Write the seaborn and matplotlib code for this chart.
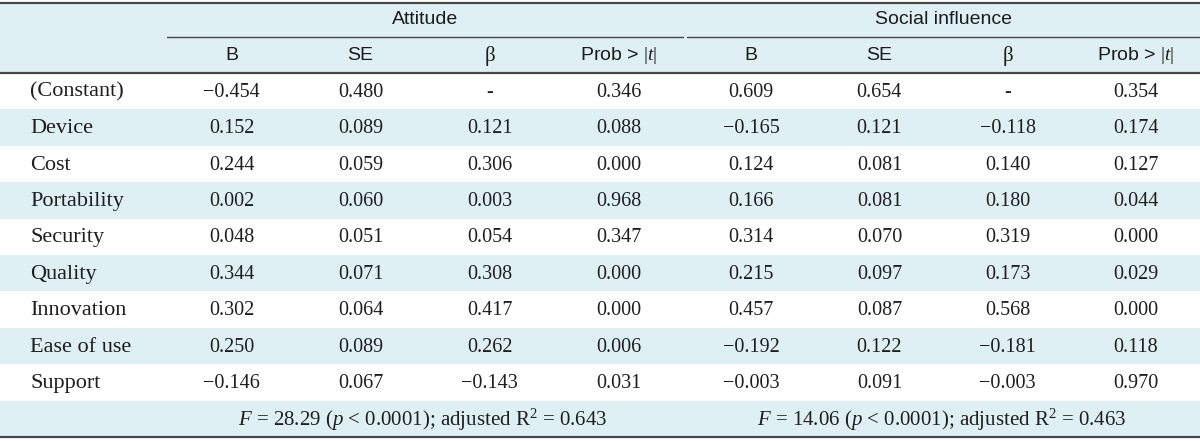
import matplotlib
matplotlib.use("Agg")
import matplotlib.pyplot as plt
import seaborn as sns

# regression table values
predictors = ["(Constant)", "Device", "Cost", "Portability", "Security",
              "Quality", "Innovation", "Ease of use", "Support"]
attitude_b = [-0.454, 0.152, 0.244, 0.002, 0.048, 0.344, 0.302, 0.250, -0.146]
attitude_se = [0.480, 0.089, 0.059, 0.060, 0.051, 0.071, 0.064, 0.089, 0.067]
attitude_beta = [None, 0.121, 0.306, 0.003, 0.054, 0.308, 0.417, 0.262, -0.143]
attitude_p = [0.346, 0.088, 0.000, 0.968, 0.347, 0.000, 0.000, 0.006, 0.031]
social_b = [0.609, -0.165, 0.124, 0.166, 0.314, 0.215, 0.457, -0.192, -0.003]
social_se = [0.654, 0.121, 0.081, 0.081, 0.070, 0.097, 0.087, 0.122, 0.091]
social_beta = [None, -0.118, 0.140, 0.180, 0.319, 0.173, 0.568, -0.181, -0.003]
social_p = [0.354, 0.174, 0.127, 0.044, 0.000, 0.029, 0.000, 0.118, 0.970]
groups = ["Attitude", "Social influence"]
sub_headers = ["B", "SE", "β", r"Prob > $|t|$"]
fit_stats = [r"$F$ = 28.29 ($p$ < 0.0001); adjusted R$^2$ = 0.643",
             r"$F$ = 14.06 ($p$ < 0.0001); adjusted R$^2$ = 0.463"]

sns.set_theme(style="white")
plt.rcParams["mathtext.fontset"] = "custom"
plt.rcParams["mathtext.rm"] = "Liberation Serif"
plt.rcParams["mathtext.it"] = "Liberation Serif:italic"
plt.rcParams["font.family"] = ["Liberation Serif", "DejaVu Serif"]

band = "#dff0f4"
line_col = "#454545"
head_font = ["Liberation Sans Narrow", "Liberation Sans", "DejaVu Sans"]
head_col = "#1c1c1c"
txt_col = "#1e1e1e"

W, H = 1200, 441
fig = plt.figure(figsize=(12, 4.41), dpi=100)
ax = fig.add_axes([0, 0, 1, 1])
ax.set_xlim(0, W)
ax.set_ylim(H, 0)
ax.axis("off")

head_top, head_bot = 3, 73
row_h = (437 - head_bot) / (len(predictors) + 1)
group_spans = [(167, 683), (687, 1200)]


def fmt(v):
    if v is None:
        return "-"
    s = f"{abs(v):.3f}"
    return ("\u2212" + s) if v < 0 else s


# header band and striped rows
ax.axhspan(head_top, head_bot, color=band, zorder=0, lw=0)
for i in range(len(predictors) + 1):
    if i % 2 == 1:
        y0 = head_bot + i * row_h
        ax.axhspan(y0, y0 + row_h, color=band, zorder=0, lw=0)

ax.plot([0, W], [head_top, head_top], color=line_col, lw=1.6)
ax.plot([0, W], [head_bot, head_bot], color=line_col, lw=1.6)
ax.plot([0, W], [437, 437], color=line_col, lw=1.6)

columns = [[attitude_b, attitude_se, attitude_beta, attitude_p],
           [social_b, social_se, social_beta, social_p]]

for g, (x0, x1) in enumerate(group_spans):
    ax.plot([x0, x1], [37, 37], color=line_col, lw=1.0)
    ax.text((x0 + x1) / 2, 20, groups[g], ha="center", va="center",
            fontsize=14, family=head_font, color=head_col)
    cw = (x1 - x0) / 4
    for c in range(4):
        xc = x0 + (c + 0.5) * cw
        if sub_headers[c] == "β":
            ax.text(xc, 56, "β", ha="center", va="center", fontsize=15,
                    color=head_col)
        else:
            ax.text(xc, 56, sub_headers[c], ha="center", va="center",
                    fontsize=14, family=head_font, color=head_col)
        for r, v in enumerate(columns[g][c]):
            yc = head_bot + (r + 0.5) * row_h
            ax.text(xc, yc + 1, fmt(v), ha="center", va="center",
                    fontsize=14.5, color=txt_col)
    yf = head_bot + (len(predictors) + 0.5) * row_h
    ax.text((x0 + x1) / 2 - 2, yf + 1, fit_stats[g], ha="center", va="center",
            fontsize=15, color=txt_col)

for r, name in enumerate(predictors):
    yc = head_bot + (r + 0.5) * row_h
    ax.text(30, yc + 1, name, ha="left", va="center", fontsize=16,
            color=txt_col)

fig.savefig("out.png", dpi=100)
